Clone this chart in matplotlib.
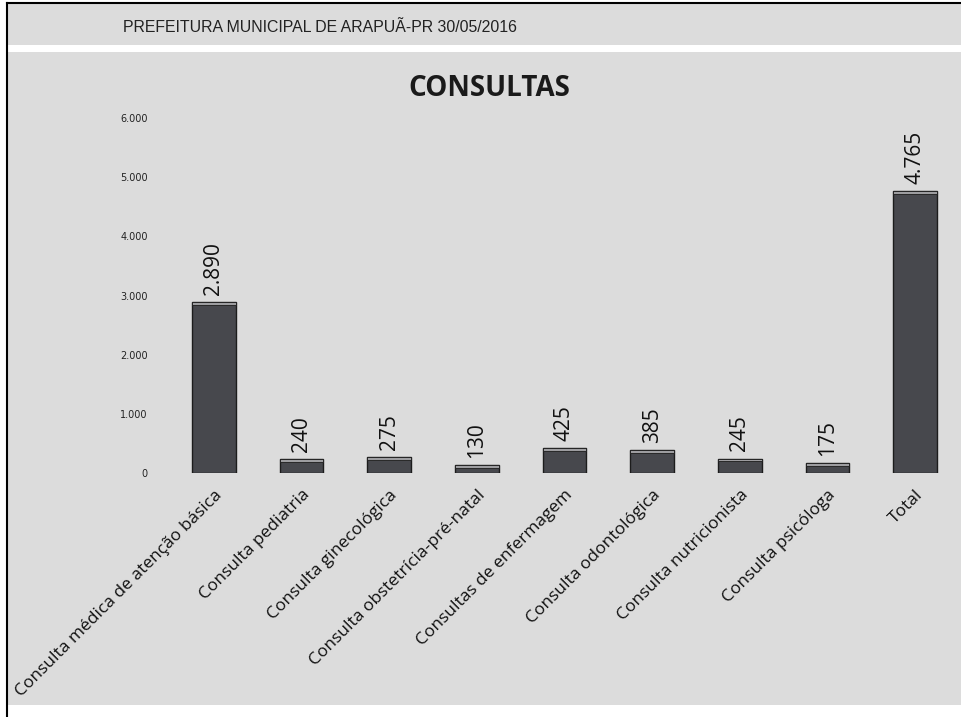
import matplotlib.pyplot as plt
from matplotlib.patches import Rectangle
from matplotlib.lines import Line2D
from matplotlib.ticker import FuncFormatter

categories = [
    "Consulta médica de atenção básica",
    "Consulta pediatria",
    "Consulta ginecológica",
    "Consulta obstetrícia-pré-natal",
    "Consultas de enfermagem",
    "Consulta odontológica",
    "Consulta nutricionista",
    "Consulta psicóloga",
    "Total",
]
values = [2890, 240, 275, 130, 425, 385, 245, 175, 4765]
yticks = [0, 1000, 2000, 3000, 4000, 5000, 6000]

header = "PREFEITURA MUNICIPAL DE ARAPUÃ-PR 30/05/2016"
title = "CONSULTAS"

BG = "#dcdcdc"
BAR = "#47484d"


def br_fmt(v, pos=None):
    return f"{int(v):,}".replace(",", ".")


fig = plt.figure(figsize=(9.62, 7.17), dpi=100)
fig.patch.set_facecolor("white")
H = 717.0
W = 962.0

# header strip and main panel
fig.patches.append(Rectangle((7 / W, (H - 45) / H), 1, 42 / H, transform=fig.transFigure,
                             facecolor=BG, edgecolor="none", zorder=-10))
fig.patches.append(Rectangle((7 / W, (H - 705) / H), 1, 653 / H, transform=fig.transFigure,
                             facecolor=BG, edgecolor="none", zorder=-10))
fig.lines.append(Line2D([7 / W, 7 / W], [0, (H - 3) / H], transform=fig.transFigure,
                        color="black", lw=1.5))
fig.lines.append(Line2D([7 / W, 1], [(H - 3) / H, (H - 3) / H], transform=fig.transFigure,
                        color="black", lw=1.5))

fig.text(123 / W, (H - 27) / H, header, fontsize=11.4, family="Liberation Sans",
         color="#222222", va="center", ha="left")
fig.text(489 / W, (H - 88) / H, title, fontsize=20, fontweight="bold", family="Open Sans",
         color="#1a1a1a", va="center", ha="center")

ax = fig.add_axes([170 / W, (H - 473) / H, (959 - 170) / W, (473 - 118) / H])
ax.set_facecolor("none")

x = list(range(len(categories)))
ax.bar(x, values, width=0.5, color=BAR, edgecolor="#1c1c1c", linewidth=1, zorder=2)
# light bevel on top of each bar
cap = [min(v, 50) for v in values]
ax.bar(x, cap, bottom=[v - c for v, c in zip(values, cap)], width=0.5,
       color="#9d9da0", edgecolor="#1c1c1c", linewidth=0.6, zorder=3)

for xi, v in zip(x, values):
    ax.text(xi, v + 120, br_fmt(v), rotation=90, ha="center", va="bottom",
            fontsize=15, family="Open Sans", color="#111111")

ax.set_xlim(-0.5, len(categories) - 0.5)
ax.set_ylim(0, 6000)
ax.set_yticks(yticks)
ax.yaxis.set_major_formatter(FuncFormatter(br_fmt))
ax.tick_params(axis="y", length=0, pad=16, labelsize=7, labelcolor="#222222")
ax.set_xticks(x)
ax.set_xticklabels(categories, rotation=45, ha="right", rotation_mode="anchor",
                   fontsize=12.5, family="Open Sans", color="#111111")
ax.tick_params(axis="x", length=0, pad=10)
for s in ax.spines.values():
    s.set_visible(False)

fig.savefig("out.png", dpi=100, facecolor=fig.get_facecolor())
